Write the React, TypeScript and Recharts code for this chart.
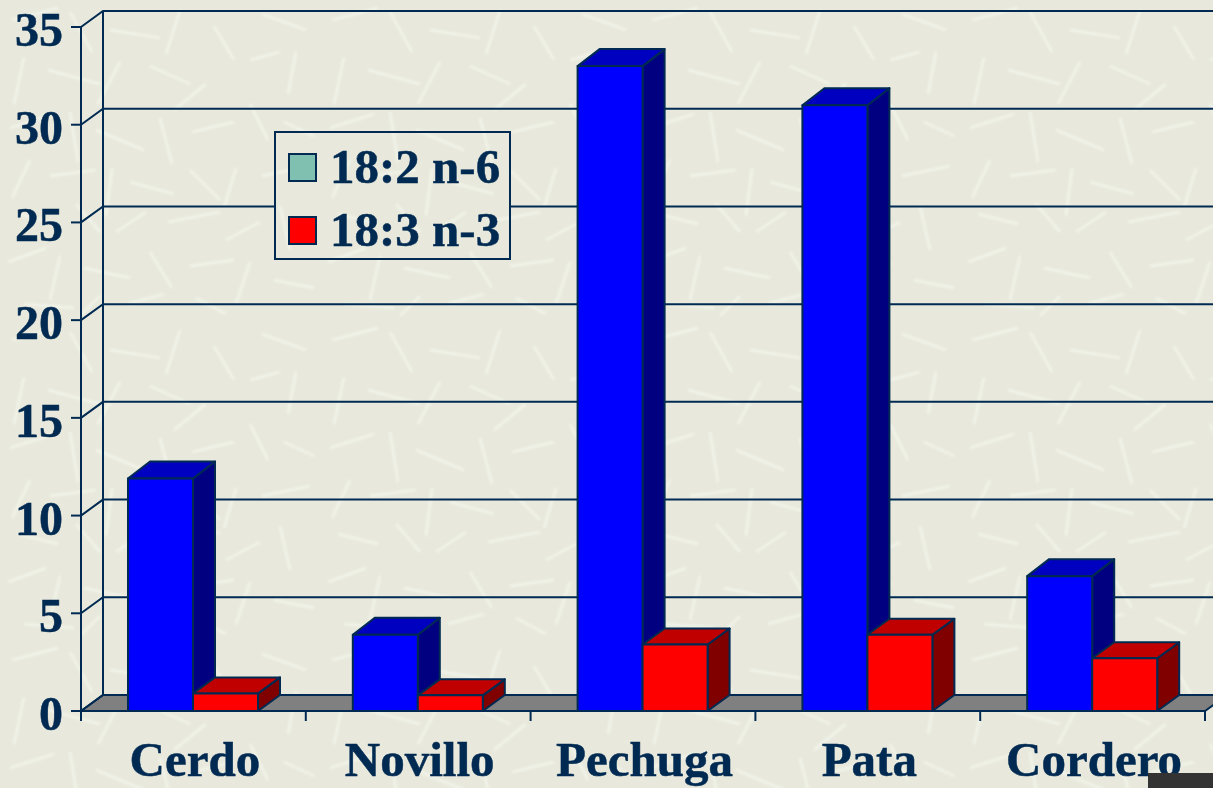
import React from "react";
import { BarChart, Bar, XAxis, YAxis, CartesianGrid, Legend } from "recharts";

// fatty acid content per cut of meat
const categories = ["Cerdo", "Novillo", "Pechuga", "Pata", "Cordero"];
const serie18_2 = [11.9, 3.9, 33, 31, 6.9];
const serie18_3 = [0.9, 0.8, 3.4, 3.9, 2.7];
const seriesNames = ["18:2 n-6", "18:3 n-3"];
const legendColors = ["#7fc0b0", "#ff0000"];
const yTicks = [0, 5, 10, 15, 20, 25, 30, 35];

const data = categories.map((name, i) => ({
  name,
  a: serie18_2[i],
  b: serie18_3[i],
}));

const INK = "#002a52";
const FONT = "'Liberation Serif', 'Times New Roman', serif";
const DEPTH_X = 22;
const DEPTH_Y = 16;

// hand placed pale fibres for the paper look of the slide background
const fibres = [
  "M12 20l46 -12", "M70 12l22 40", "M110 30l50 8", "M180 10l-14 44", "M214 26l20 34", "M262 14l44 16",
  "M24 58l-10 46", "M48 70l52 14", "M120 62l-22 42", "M150 66l40 18", "M206 84l-32 26", "M250 60l30 -8", "M296 52l-8 42",
  "M10 128l44 -14", "M70 112l8 50", "M96 130l48 20", "M160 118l12 46", "M192 132l42 -10", "M250 104l18 36", "M284 122l30 14",
  "M30 160l-18 38", "M50 176l46 -6", "M112 168l-6 48", "M130 182l44 12", "M190 170l30 30", "M236 168l-12 40", "M262 176l48 -10",
  "M18 214l40 10", "M76 204l24 28", "M146 212l-30 20", "M168 222l52 -10", "M226 240l34 -18", "M280 206l10 44",
  "M8 262l38 -14", "M60 256l-10 44", "M84 268l46 10", "M150 252l22 36", "M190 266l44 -6", "M250 262l-14 42", "M274 280l40 8",
  "M24 304l50 4", "M100 296l-20 20", "M128 304l36 -10", "M196 298l30 16",
];
const tile = `<svg xmlns='http://www.w3.org/2000/svg' width='320' height='320'><defs><filter id='b'><feGaussianBlur stdDeviation='1'/></filter></defs><rect width='320' height='320' fill='#e8e9dc'/><g filter='url(#b)' stroke='#f4f5ec' stroke-opacity='0.75' stroke-width='3' fill='none'>${fibres
  .map((d) => `<path d='${d}'/>`)
  .join("")}</g></svg>`;
const paper = {
  backgroundImage: `url("data:image/svg+xml,${encodeURIComponent(tile)}")`,
  backgroundAttachment: "fixed",
};

// box drawn by hand since recharts has no 3d bars
const Bar3D = (props: any) => {
  const { x, y, width, height, fill, side, top, depthY } = props;
  return (
    <g stroke={INK} strokeWidth={2} strokeLinejoin="round">
      <polygon
        points={`${x + width},${y} ${x + width + DEPTH_X},${y - depthY} ${x + width + DEPTH_X},${y + height - depthY} ${x + width},${y + height}`}
        fill={side}
      />
      <polygon
        points={`${x},${y} ${x + DEPTH_X},${y - depthY} ${x + width + DEPTH_X},${y - depthY} ${x + width},${y}`}
        fill={top}
      />
      <rect x={x} y={y} width={width} height={height} fill={fill} />
    </g>
  );
};

// grid runs from the front axis up the side wall and along the back wall
const GridLine = (props: any) => {
  const { x1, x2, y1, key, y, height, index } = props;
  const isFloor = Math.abs(y1 - (y + height)) < 1;
  return (
    <g key={key ?? index}>
      {isFloor && (
        <polygon
          points={`${x1},${y1} ${x1 + DEPTH_X},${y1 - DEPTH_Y} ${x2 + DEPTH_X},${y1 - DEPTH_Y} ${x2},${y1}`}
          fill="#808080"
          stroke={INK}
          strokeWidth={2}
        />
      )}
      <polyline
        points={`${x1},${y1} ${x1 + DEPTH_X},${y1 - DEPTH_Y} ${x2 + DEPTH_X},${y1 - DEPTH_Y}`}
        fill="none"
        stroke={INK}
        strokeWidth={2}
      />
      {Math.abs(y1 - y) < 1 && (
        <line
          x1={x1 + DEPTH_X}
          y1={y1 - DEPTH_Y}
          x2={x1 + DEPTH_X}
          y2={y + height - DEPTH_Y}
          stroke={INK}
          strokeWidth={2}
        />
      )}
    </g>
  );
};

const CategoryTick = (props: any) => {
  const { x, y, payload, index } = props;
  const band = 1124 / categories.length;
  return (
    <g>
      <line x1={x - band / 2} y1={711} x2={x - band / 2} y2={721} stroke={INK} strokeWidth={2} />
      {index === categories.length - 1 && (
        <line x1={x + band / 2} y1={711} x2={x + band / 2} y2={721} stroke={INK} strokeWidth={2} />
      )}
      <text
        x={x + 1.5}
        y={y + 57}
        textAnchor="middle"
        fontFamily={FONT}
        fontSize={49}
        fontWeight="bold"
        fill={INK}
        stroke={INK}
        strokeWidth={0.5}
      >
        {payload.value}
      </text>
    </g>
  );
};

const LegendBox = (props: any) => (
  <div
    style={{
      ...paper,
      position: "relative",
      width: 237,
      height: 129,
      boxSizing: "border-box",
      border: `2px solid ${INK}`,
      fontFamily: FONT,
      fontSize: 49,
      fontWeight: "bold",
      color: INK,
      WebkitTextStroke: `0.5px ${INK}`,
    }}
  >
    {(props.payload || []).map((entry: any, i: number) => (
      <div key={entry.value} style={{ position: "absolute", left: 0, top: 12 + i * 63, height: 50, whiteSpace: "nowrap" }}>
        <span
          style={{
            position: "absolute",
            left: 12,
            top: 8,
            width: 29,
            height: 29,
            boxSizing: "border-box",
            background: legendColors[i],
            border: `2px solid ${INK}`,
          }}
        />
        <span style={{ position: "absolute", left: 54, top: -3, lineHeight: "50px" }}>{entry.value}</span>
      </div>
    ))}
  </div>
);

export default function App() {
  return (
    <div style={{ ...paper, position: "fixed", left: 0, top: 0, width: 1213, height: 788, overflow: "hidden" }}>
      <BarChart
        width={1213}
        height={788}
        data={data}
        margin={{ top: 27, right: 8, bottom: 0, left: 0 }}
        barSize={65}
        barGap={0}
        style={{ overflow: "hidden" }}
      >
        <CartesianGrid vertical={false} horizontal={GridLine as any} />
        <XAxis
          dataKey="name"
          interval={0}
          tickLine={false}
          axisLine={{ stroke: INK, strokeWidth: 2 }}
          tick={CategoryTick as any}
          height={77}
        />
        <YAxis
          width={81}
          domain={[0, 35]}
          ticks={yTicks}
          interval={0}
          tickSize={10}
          tickMargin={8}
          axisLine={{ stroke: INK, strokeWidth: 2 }}
          tickLine={{ stroke: INK, strokeWidth: 2 }}
          tick={{ fontFamily: FONT, fontSize: 48, fontWeight: "bold", fill: INK, stroke: INK, strokeWidth: 0.5, dy: 2 }}
        />
        <Legend
          layout="vertical"
          align="center"
          verticalAlign="middle"
          content={LegendBox as any}
          wrapperStyle={{ left: 274, top: 131, width: 237, height: 129, margin: 0 }}
        />
        <Bar
          dataKey="a"
          name={seriesNames[0]}
          fill="#0000ff"
          isAnimationActive={false}
          shape={(p: any) => <Bar3D {...p} fill="#0000ff" side="#000080" top="#0000c0" depthY={17} />}
        />
        <Bar
          dataKey="b"
          name={seriesNames[1]}
          fill="#ff0000"
          isAnimationActive={false}
          shape={(p: any) => <Bar3D {...p} fill="#ff0000" side="#800000" top="#c00000" depthY={16} />}
        />
      </BarChart>
      <div style={{ position: "absolute", left: 1148, top: 773, width: 65, height: 15, background: "#333333" }} />
    </div>
  );
}
